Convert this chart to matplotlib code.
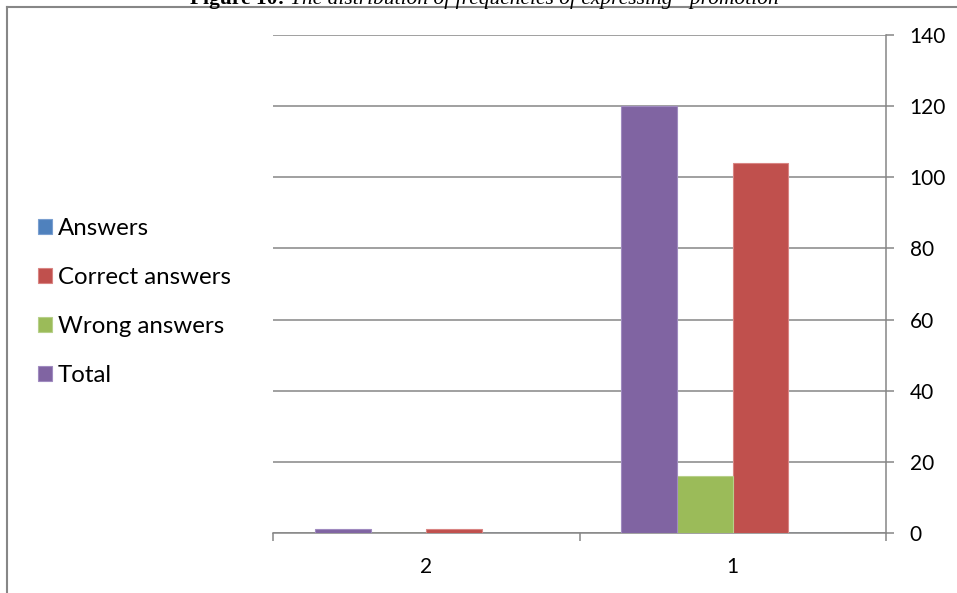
import matplotlib.pyplot as plt
import numpy as np
from matplotlib.lines import Line2D

plt.rcParams['font.family'] = ['Lato', 'DejaVu Sans']

categories = ['1', '2']
series_names = ['Answers', 'Correct answers', 'Wrong answers', 'Total']
answers = [0, 0]
correct_answers = [104, 1]
wrong_answers = [16, 0]
total = [120, 1]

colors = ['#4F81BD', '#C0504D', '#9BBB59', '#8064A2']
edges = ['#7A9FD0', '#D98583', '#B7D08A', '#A08BC0']

fig = plt.figure(figsize=(9.57, 5.93), dpi=100)
ax = fig.add_axes([273 / 957, 60 / 593, 613 / 957, 498 / 593])

x_pos = np.arange(len(categories))
width = 1 / 5.5
handles = []
for i, (name, values) in enumerate(zip(series_names, [answers, correct_answers, wrong_answers, total])):
    b = ax.bar(x_pos + (i - 1.5) * width, values, width, color=colors[i],
               edgecolor=edges[i], linewidth=0.8, label=name, zorder=3)
    handles.append(b)

# categories run right to left, value axis sits on the right
ax.set_xlim(-0.5, 1.5)
ax.invert_xaxis()
ax.set_ylim(0, 140)
ax.set_yticks(range(0, 141, 20))
ax.yaxis.tick_right()
ax.yaxis.grid(True, color='#868686', linewidth=1.1, zorder=0)
ax.set_axisbelow(True)

ax.set_xticks(x_pos)
ax.set_xticklabels(categories)
ax.set_xticks([-0.5, 0.5, 1.5], minor=True)
ax.tick_params(axis='x', which='major', length=0, pad=17, labelsize=15)
ax.tick_params(axis='x', which='minor', length=6, width=1.1, color='#868686', direction='out')
ax.tick_params(axis='y', length=6, width=1.1, color='#868686', pad=11, labelsize=15)

for side in ['top', 'left']:
    ax.spines[side].set_visible(False)
ax.spines['bottom'].set_color('#868686')
ax.spines['bottom'].set_linewidth(1.1)
ax.spines['right'].set_color('#868686')
ax.spines['right'].set_linewidth(1.1)

fig.legend(handles, series_names, loc='center left', bbox_to_anchor=(28 / 957, 1 - 302 / 593),
           frameon=False, fontsize=17.3, handlelength=0.6, handleheight=0.6,
           handletextpad=0.25, labelspacing=1.17, borderaxespad=0)

# chart frame, clipped by the image edges
frame_color = '#878787'
fig.add_artist(Line2D([7 / 957, 7 / 957], [0, 1 - 7 / 593], transform=fig.transFigure,
                      color=frame_color, linewidth=1.5))
fig.add_artist(Line2D([7 / 957, 1], [1 - 7 / 593, 1 - 7 / 593], transform=fig.transFigure,
                      color=frame_color, linewidth=1.5))

# caption above the frame, mostly cut off at the top edge
cap_y = 1 - 4 / 593
head = fig.text(190 / 957, cap_y, 'Figure 10: ', family='Liberation Serif', fontweight='bold',
                fontsize=15.5, va='baseline', ha='left')
renderer = fig.canvas.get_renderer()
head_end = head.get_window_extent(renderer).x1 / fig.bbox.width
fig.text(head_end, cap_y, 'The distribution of frequencies of expressing \u201cpromotion\u201d',
         family='Liberation Serif', style='italic', fontsize=15.5, va='baseline', ha='left')

fig.savefig('out.png', dpi=100)
